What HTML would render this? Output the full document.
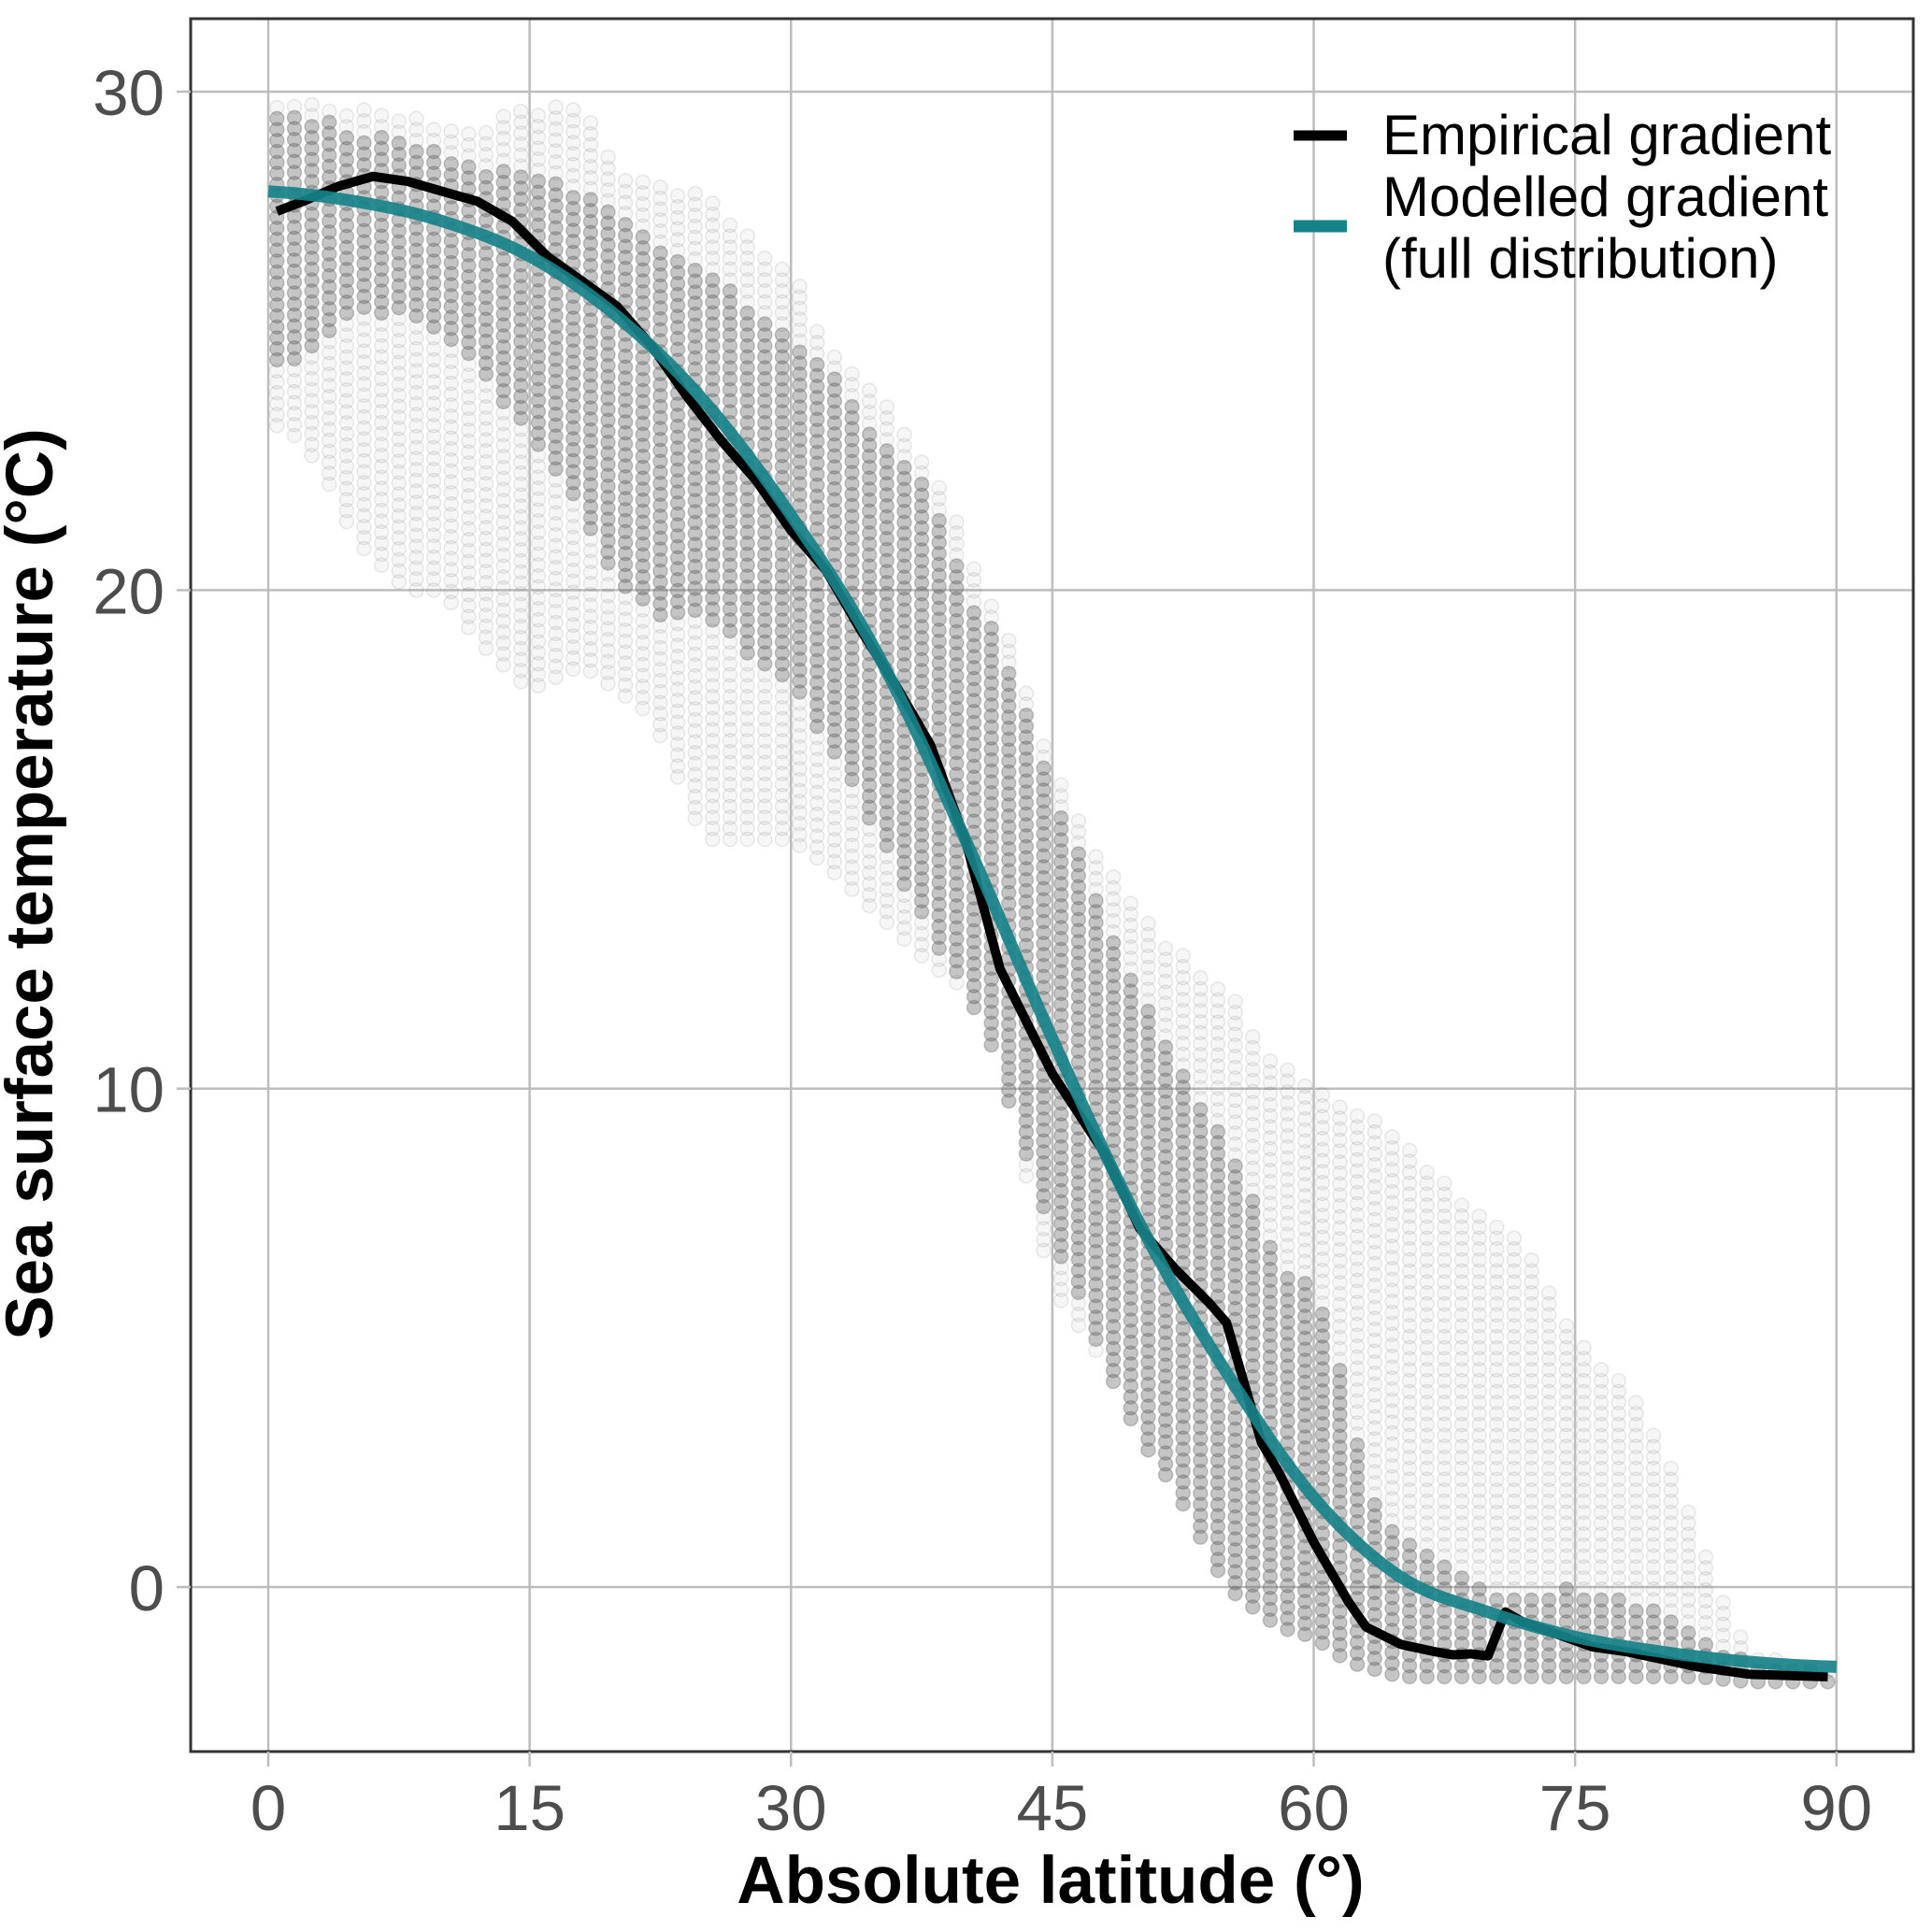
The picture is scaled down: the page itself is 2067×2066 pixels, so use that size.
<!DOCTYPE html>
<html><head><meta charset="utf-8"><style>
html,body{margin:0;padding:0;background:#fff}
svg{display:block}
text{font-family:"Liberation Sans",Arial,sans-serif}
</style></head><body>
<svg id="chart" width="2067" height="2066" viewBox="0 0 2067 2066" xmlns="http://www.w3.org/2000/svg">
<rect x="0" y="0" width="2067" height="2066" fill="#fff"/>
<g id="grid"></g>
<g id="points"></g>
<g id="lines"></g>
<rect x="204" y="20" width="1843" height="1854" fill="none" stroke="#333" stroke-width="3"/>
<g id="axes"></g>
<text x="1124" y="2036" text-anchor="middle" font-size="71" font-weight="bold" fill="#000">Absolute latitude (°)</text>
<text transform="translate(56,946) rotate(-90)" text-anchor="middle" font-size="71" font-weight="bold" fill="#000">Sea surface temperature (°C)</text>
<g>
<line x1="1384" y1="145" x2="1441" y2="145" stroke="#000" stroke-width="11"/>
<text x="1479" y="165" font-size="60" fill="#000">Empirical gradient</text>
<line x1="1384" y1="242" x2="1441" y2="242" stroke="#17828a" stroke-width="13"/>
<text x="1479" y="231" font-size="60" fill="#000">Modelled gradient</text>
<text x="1479" y="297" font-size="60" fill="#000">(full distribution)</text>
</g>
</svg>
<script>
const xTicks=[0,15,30,45,60,75,90];
const yTicks=[0,10,20,30];
// per-column point ranges (latitude, overall min/max, dense core min/max) in °C
const colLat=[1,3,5,8,10,12,15,18,20,22,25,28,30,32,35,38,40,42,45,48,50,52,55,58,60,62,63,65,68,70,72,75,78,80,82,85,88,89.5];
const colMin=[23.3,22.5,21,20,20,19,18,18.5,18,17.5,15,15,15,14.5,13.5,12.5,12,10.5,6,4.5,3,2,0,-0.8,-1,-1.5,-1.6,-1.8,-1.8,-1.8,-1.8,-1.8,-1.8,-1.8,-1.8,-1.9,-1.9,-1.9];
const colMax=[29.7,29.8,29.7,29.5,29.4,29.3,29.7,29.8,28.5,28.2,28,27,26.5,25,24,22.5,21,19.5,16.5,14.5,13.5,12.8,12,10.5,10,9.7,9.5,9,8,7.5,7,5,4,3,1.2,-1.4,-1.5,-1.6];
const coreMin=[24.5,25,25.5,25.5,25,24.5,23,21.5,20,19.5,19.5,18.5,18,17,15,13,12,10,7,4.5,3,2,0,-0.8,-1,-1.5,-1.6,-1.8,-1.8,-1.8,-1.8,-1.8,-1.8,-1.8,-1.8,-1.9,-1.9,-1.9];
const coreMax=[29.5,29.5,29.2,29,28.8,28.5,28.3,28,27.5,27,26.5,25.5,25,24.5,23,22,20,19,16,13.5,12,10.5,9,6.5,6,4,2,1,0.5,0,-0.2,0,-0.3,-0.5,-1,-1.5,-1.6,-1.7];
const empLat=[0.5,2,4,6,8,10,12,14,16,18,20,22,24,26,28,30,32,34,36,38,40,42,45,48,50,52,54,55,56,57,58,60,62,63,65,67,68,69,70,71,72,74,76,78,80,82,85,89.5];
const empVal=[27.6,27.8,28.1,28.3,28.2,28.0,27.8,27.4,26.7,26.2,25.7,24.9,23.9,23.0,22.2,21.2,20.4,19.2,18.1,16.9,15.0,12.4,10.3,8.7,7.2,6.4,5.7,5.3,4.1,2.9,2.3,0.9,-0.3,-0.8,-1.15,-1.3,-1.36,-1.34,-1.38,-0.5,-0.7,-0.95,-1.2,-1.3,-1.45,-1.6,-1.75,-1.8];
const modLat=[0,5,10,15,20,25,30,35,40,45,50,55,60,65,70,75,80,85,90];
const modVal=[28.0,27.8,27.4,26.7,25.5,23.8,21.5,18.7,15.0,11.0,7.3,4.3,1.8,0.2,-0.5,-1.0,-1.3,-1.5,-1.6];

const X=v=>287+v*18.642;
const Y=v=>1698-v*53.33;
const NS='http://www.w3.org/2000/svg';
function mk(tag,parent){const e=document.createElementNS(NS,tag);parent.appendChild(e);return e;}
const grid=document.getElementById('grid'),axes=document.getElementById('axes');
xTicks.forEach(t=>{
 const l=mk('line',grid);l.setAttribute('x1',X(t));l.setAttribute('x2',X(t));l.setAttribute('y1',20);l.setAttribute('y2',1874);l.setAttribute('stroke','#bdbdbd');l.setAttribute('stroke-width','2.5');
 
 
 const k=mk('line',axes);k.setAttribute('x1',X(t));k.setAttribute('x2',X(t));k.setAttribute('y1',1874);k.setAttribute('y2',1890);k.setAttribute('stroke','#bdbdbd');k.setAttribute('stroke-width','2.5');
 
 
 const tx=mk('text',axes);tx.setAttribute('x',X(t));tx.setAttribute('y',1958);tx.setAttribute('text-anchor','middle');tx.setAttribute('font-size','69');tx.setAttribute('fill','#4d4d4d');tx.textContent=t;
 
 
});
yTicks.forEach(t=>{
 const l=mk('line',grid);l.setAttribute('x1',204);l.setAttribute('x2',2047);l.setAttribute('y1',Y(t));l.setAttribute('y2',Y(t));l.setAttribute('stroke','#bdbdbd');l.setAttribute('stroke-width','2.5');
 
 
 const k=mk('line',axes);k.setAttribute('x1',189);k.setAttribute('x2',204);k.setAttribute('y1',Y(t));k.setAttribute('y2',Y(t));k.setAttribute('stroke','#bdbdbd');k.setAttribute('stroke-width','2.5');
 
 
 const tx=mk('text',axes);tx.setAttribute('x',176);tx.setAttribute('y',Y(t)+25);tx.setAttribute('text-anchor','end');tx.setAttribute('font-size','69');tx.setAttribute('fill','#4d4d4d');tx.textContent=t;
 
 
});
function interp(xs,ys,x){if(x<=xs[0])return ys[0];for(let i=1;i<xs.length;i++){if(x<=xs[i]){const f=(x-xs[i-1])/(xs[i]-xs[i-1]);return ys[i-1]+f*(ys[i]-ys[i-1]);}}return ys[ys.length-1];}
function spline(xs,ys,x){
 let i=1;while(i<xs.length-1&&x>xs[i])i++;
 const p0=ys[Math.max(i-2,0)],p1=ys[i-1],p2=ys[i],p3=ys[Math.min(i+1,ys.length-1)];
 const t=Math.max(0,Math.min(1,(x-xs[i-1])/(xs[i]-xs[i-1])));
 return 0.5*((2*p1)+(-p0+p2)*t+(2*p0-5*p1+4*p2-p3)*t*t+(-p0+3*p1-3*p2+p3)*t*t*t);
}
const pts=document.getElementById('points');
for(let lat=0.5;lat<90;lat+=1){
 const mn=interp(colLat,colMin,lat),mx=interp(colLat,colMax,lat),cmn=interp(colLat,coreMin,lat),cmx=interp(colLat,coreMax,lat);
 for(let v=mn;v<=mx+1e-6;v+=0.22){
  const inCore=v>=cmn&&v<=cmx;
  const c=mk('circle',pts);c.setAttribute('cx',X(lat));c.setAttribute('cy',Y(v));c.setAttribute('r',7.5);
  c.setAttribute('fill','#666');c.setAttribute('fill-opacity',inCore?'0.38':'0.06');
  c.setAttribute('stroke','#555');c.setAttribute('stroke-opacity',inCore?'0.3':'0.12');c.setAttribute('stroke-width','1.5');
  
  
 }
}
const lines=document.getElementById('lines');
const emp=mk('polyline',lines);emp.setAttribute('points',empLat.map((l,i)=>X(l)+','+Y(empVal[i])).join(' '));
emp.setAttribute('fill','none');emp.setAttribute('stroke','#000');emp.setAttribute('stroke-width','10');emp.setAttribute('stroke-linejoin','round');


let d='';for(let l=0;l<=90;l+=0.5){d+=(l?' L':'M')+X(l)+','+Y(spline(modLat,modVal,l));}
const mod=mk('path',lines);mod.setAttribute('d',d);mod.setAttribute('fill','none');mod.setAttribute('stroke','#17828a');mod.setAttribute('stroke-opacity','0.92');mod.setAttribute('stroke-width','13');mod.setAttribute('stroke-linejoin','round');


</script>
</body></html>
